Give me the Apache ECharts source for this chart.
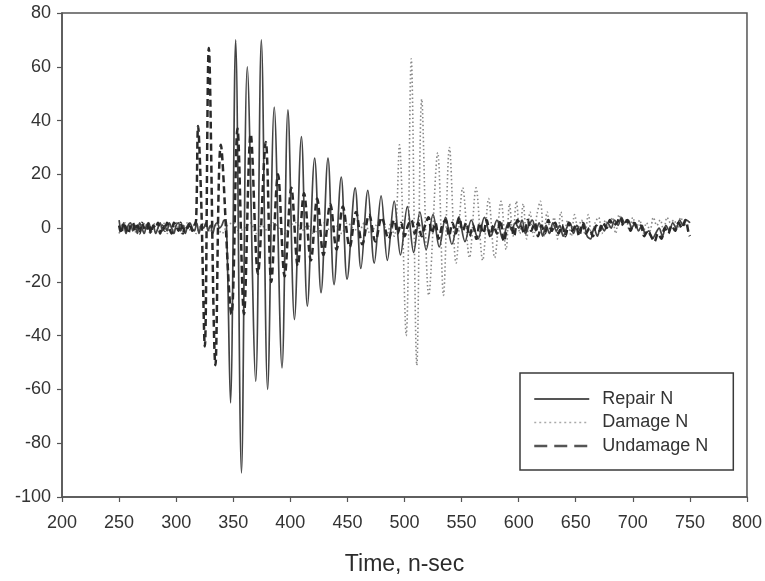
<!DOCTYPE html>
<html>
<head>
<meta charset="utf-8">
<script src="https://cdn.jsdelivr.net/npm/echarts@6/dist/echarts.min.js"></script>
<style>
html,body{margin:0;padding:0;background:#fff;}
#chart{width:765px;height:581px;}
</style>
</head>
<body>
<div id="chart"></div>
<script>
// Axis settings
const xTicks = [200, 250, 300, 350, 400, 450, 500, 550, 600, 650, 700, 750, 800];
const yTicks = [-100, -80, -60, -40, -20, 0, 20, 40, 60, 80];
const seriesNames = ['Repair N', 'Damage N', 'Undamage N'];

// Repair N  [time (n-sec), amplitude]
const repairData = [
  [250,3],[252,-1],[254,2],[256,-2],[258,1],[260,2],[262,-1],[264,1],[266,-2],[268,2],[270,0],[272,-2],[274,1],[276,2],[278,-1],[280,1],[282,-2],[284,0],[286,2],[288,-1],[290,1],[292,-1],[294,2],[296,0],[298,-2],[300,1],[302,2],[304,-1],[306,1],[308,-2],[310,1],[312,2],[314,0],[316,-1],[318,2],[320,-2],[322,1],[324,0],[326,2],[328,-1],[330,1],[332,-2],[334,1],[336,2],[338,0],[340,1],[342,3],[344,2],
  [347.6,-65],[352.1,70],[357.2,-91],[362.3,60],[369.7,-57],[374.6,70],[380.1,-60],[385.9,45],[392.7,-52],[397.9,44],[403.6,-34],[409.7,34],[414.9,-29],[421.3,26],[426.9,-24],[433,26],[438.3,-21],[444.6,19],[449.7,-19],[456.8,15],[461.8,-15],[467.9,14],[473.5,-13],[479.5,12],[485,-12],[491,10],[496.5,-10],[502.5,8],[508,-9],[513.5,6],[519,-8],[525,5],[530.5,-7],[536,4],[541.5,-6],[547.5,4],[553,-5],[558.5,3],[564.5,-4],[570,4],[575.5,-3],[581,3],[586,-4],[591,2],
  [594,-1],[597,2],[600,0],[603,3],[606,-2],[609,1],[612,3],[615,-1],[618,2],[621,-3],[624,1],[627,-2],[630,2],[633,-1],[636,1],[639,-3],[642,0],[645,2],[648,-2],[651,1],[654,-1],[657,2],[660,-3],[663,-4],[666,0],[669,-3],[672,1],[675,-1],[678,2],[681,0],[684,3],[687,1],[690,4],[693,2],[696,3],[699,0],[702,2],[705,-1],[708,1],[711,-2],[714,-1],[717,-4],[720,-2],[723,0],[726,-3],[729,1],[732,-1],[735,2],[738,0],[741,3],[744,1],[747,3],[750,2]
];

// Damage N
const damageData = [
  [250,-2],[252.5,1],[255,2],[257.5,-1],[260,0],[262.5,2],[265,-2],[267.5,1],[270,-1],[272.5,2],[275,0],[277.5,-2],[280,1],[282.5,2],[285,-1],[287.5,0],[290,2],[292.5,-2],[295,1],[297.5,-1],[300,2],[302.5,0],[305,-2],[307.5,1],[310,2],[312.5,-1],[315,1],[317.5,-2],[320,0],
  [325,2],[330,-1],[335,1],[340,-2],[345,1],[350,2],[355,-1],[360,0],[365,2],[370,-2],[375,1],[380,-1],[385,2],[390,0],[395,-2],[400,1],[405,2],[410,-1],[415,1],[420,-2],[425,0],[430,2],[435,-1],[440,1],[445,-2],[450,2],[455,0],[460,-1],[465,2],[470,-2],[475,1],[480,3],[485,-2],[488,2],[491,-3],[493,4],
  [495.6,31],[501.5,-40],[505.9,63],[510.8,-51],[515.1,48],[521.3,-25],[529.1,28],[534.1,-25],[539.4,30],[545.2,-13],[551,15],[556.9,-11],[562.7,15],[568.5,-12],[573.7,11],[579,-11],[584.6,10],[589,-8],
  [592,9],[595,-3],[598,10],[601,-2],[604,9],[607,-4],[610,6],[613,-3],[616,5],[619,10],[622,-3],[625,6],[628,-2],[631,4],[634,-4],[637,6],[640,-1],[643,3],[646,-3],[649,5],[652,0],[655,3],[658,-2],[661,5],[664,-3],[667,2],[670,4],[673,-2],[676,3],[679,0],[682,4],[685,-2],[688,5],[691,1],[694,3],[697,-1],[700,4],[703,0],[706,3],[709,-2],[712,2],[715,-1],[718,4],[721,1],[724,3],[727,-1],[730,4],[733,2],[736,3],[739,0],[742,4],[745,1],[748,3],[750,2]
];

// Undamage N
const undamageData = [
  [250,1],[252,-2],[254,2],[256,0],[258,-2],[260,1],[262,2],[264,-1],[266,1],[268,-2],[270,2],[272,0],[274,-1],[276,2],[278,-2],[280,1],[282,0],[284,2],[286,-2],[288,1],[290,-1],[292,2],[294,0],[296,-2],[298,2],[300,1],[302,-1],[304,2],[306,-2],[308,1],[310,0],[312,2],[314,-1],[316,1],[317.5,3],
  [319.2,38],[321.8,12],[325.1,-44],[328.6,67],[334.4,-51],[339.1,31],[348.4,-32],[353.7,37],[359.4,-32],[365.3,35],[371.6,-17],[378.5,32],[383.3,-20],[389.2,20],[395,-18],[400.9,15],[406.5,-14],[412,13],[418,-12],[423.5,11],[429,-10],[435,9],[440.5,-8],[446,8],[452,-7],[457.5,6],[463,-6],[469,5],[474.5,-5],[480,4],[486,-4],[491,3],
  [494,-2],[497,2],[500,-3],[503,1],[506,3],[509,-2],[512,2],[515,-3],[518,1],[521,4],[524,-2],[527,2],[530,-4],[533,1],[536,3],[539,-3],[542,2],[545,-2],[548,4],[551,-1],[554,2],[557,-3],[560,1],[563,-4],[566,2],[569,-2],[572,3],[575,-3],[578,1],[581,-2],[584,3],[587,-5],[590,0],[593,2],[596,-3],[599,3],[602,1],[605,-2],[608,3],[611,-1],[614,2],[617,-3],[620,1],[623,-2],[626,3],[629,-1],[632,2],[635,-2],[638,1],[641,-3],[644,2],[647,-1],[650,1],[653,-3],[656,2],[659,-2],[662,0],[665,-3],[668,1],[671,-1],[674,2],[677,0],[680,3],[683,1],[686,2],[689,4],[692,1],[695,3],[698,-1],[701,2],[704,0],[707,1],[710,-3],[713,-1],[716,-3],[719,-5],[722,-2],[725,-4],[728,0],[731,-2],[734,1],[737,-1],[740,2],[743,0],[746,3],[749,-2],[750,-3]
];

const FONT = '"Liberation Sans", Arial, sans-serif';
const chart = echarts.init(document.getElementById('chart'), null, {renderer: 'canvas'});

chart.setOption({
  animation: false,
  backgroundColor: '#ffffff',
  grid: {
    left: 62, right: 17, top: 13, bottom: 81,
    show: true, borderColor: '#555', borderWidth: 1.5, backgroundColor: 'transparent'
  },
  xAxis: {
    type: 'value',
    min: xTicks[0], max: xTicks[xTicks.length - 1], interval: 50,
    name: 'Time, n-sec', nameLocation: 'middle', nameGap: 56,
    nameTextStyle: {fontFamily: FONT, fontSize: 23, color: '#2b2b2b'},
    axisLine: {show: true, onZero: false, lineStyle: {color: '#555', width: 1.5}},
    axisTick: {show: true, inside: false, length: 5, lineStyle: {color: '#555', width: 1.2}},
    axisLabel: {fontFamily: FONT, fontSize: 18, color: '#333', margin: 17},
    splitLine: {show: false}
  },
  yAxis: {
    type: 'value',
    min: yTicks[0], max: yTicks[yTicks.length - 1], interval: 20,
    axisLine: {show: true, onZero: false, lineStyle: {color: '#555', width: 1.5}},
    axisTick: {show: true, inside: false, length: 5, lineStyle: {color: '#555', width: 1.2}},
    axisLabel: {fontFamily: FONT, fontSize: 18, color: '#333', margin: 11},
    splitLine: {show: false}
  },
  legend: {
    orient: 'vertical',
    left: 520, top: 373,
    padding: [17, 25, 15, 13],
    itemWidth: 55, itemHeight: 16, itemGap: 5.5,
    borderColor: '#3a3a3a', borderWidth: 1.5, borderRadius: 0,
    backgroundColor: '#ffffff',
    textStyle: {fontFamily: FONT, fontSize: 18, color: '#333', padding: [0, 0, 0, 8]},
    data: [
      {name: seriesNames[0], itemStyle: {opacity: 0}, lineStyle: {color: '#555', width: 2, type: 'solid', opacity: 1}},
      {name: seriesNames[1], itemStyle: {opacity: 0}, lineStyle: {color: '#aaa', width: 1.5, type: [2, 3], opacity: 1}},
      {name: seriesNames[2], itemStyle: {opacity: 0}, lineStyle: {color: '#555', width: 2.5, type: [13, 7], opacity: 1}}
    ]
  },
  series: [
    {
      name: seriesNames[0], type: 'line', data: repairData,
      symbol: 'none', smooth: 0.35, z: 3,
      lineStyle: {color: '#444', width: 1.7, type: 'solid'},
      itemStyle: {color: '#444'}
    },
    {
      name: seriesNames[1], type: 'line', data: damageData,
      symbol: 'none', smooth: 0.35, z: 2,
      lineStyle: {color: '#888', width: 1.6, type: [1.5, 2.5]},
      itemStyle: {color: '#888'}
    },
    {
      name: seriesNames[2], type: 'line', data: undamageData,
      symbol: 'none', smooth: 0.35, z: 4,
      lineStyle: {color: '#2a2a2a', width: 2.5, type: [7, 4]},
      itemStyle: {color: '#2a2a2a'}
    }
  ]
});
</script>
</body>
</html>
